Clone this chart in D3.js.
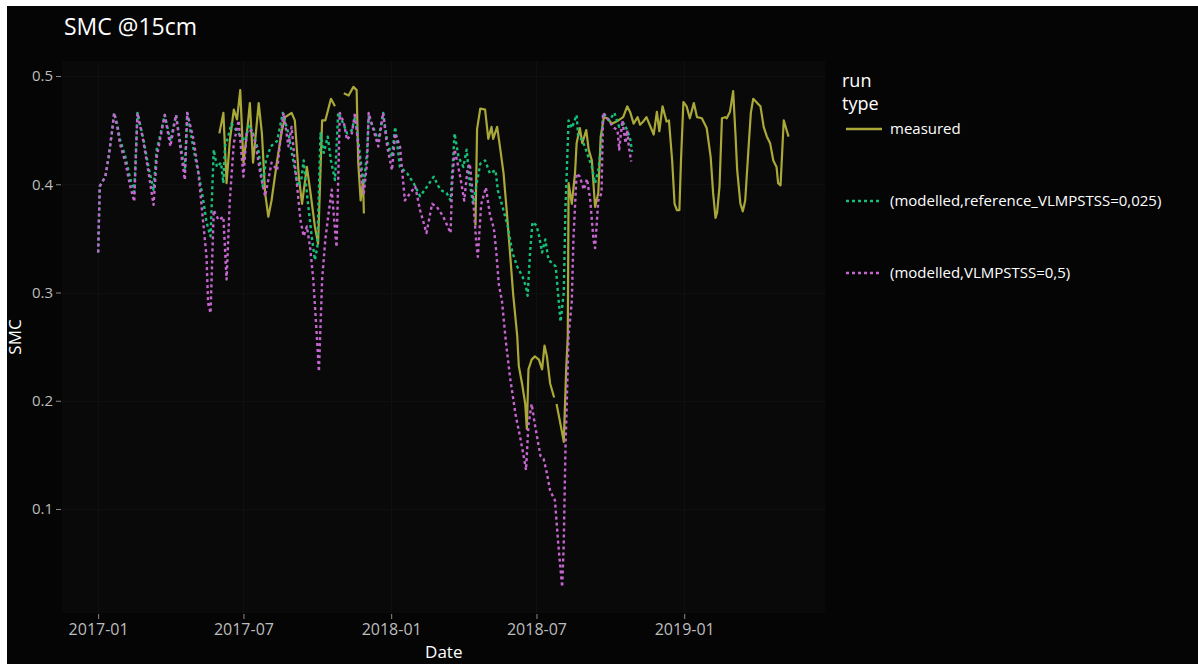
<!DOCTYPE html>
<html>
<head>
<meta charset="utf-8">
<script src="https://cdn.jsdelivr.net/npm/d3@7"></script>
<style>
  html, body { margin: 0; padding: 0; background: #ffffff; }
  svg { display: block; }
  text { font-family: "Open Sans", "DejaVu Sans", sans-serif; }
</style>
</head>
<body>
<svg id="chart" width="1198" height="664"></svg>
<script>
// ---- Soil moisture content at 15 cm depth ----

// Measured SMC (null marks a gap in the record)
const measuredDates = [
  "2017-06-01","2017-06-06","2017-06-10","2017-06-14","2017-06-19","2017-06-23","2017-06-27",
  "2017-07-01","2017-07-05","2017-07-09","2017-07-13","2017-07-20","2017-07-24","2017-07-28",
  "2017-08-01","2017-08-05","2017-08-12","2017-08-18","2017-08-22","2017-08-30","2017-09-03",
  "2017-09-08","2017-09-12","2017-09-18","2017-09-22","2017-09-28","2017-10-02","2017-10-07",
  "2017-10-11","2017-10-18","2017-10-23","2017-10-29","2017-11-03","2017-11-09","2017-11-15",
  "2017-11-19","2017-11-21","2017-11-24","2017-11-27","2017-11-28","2018-02-01",
  "2018-04-16","2018-04-18","2018-04-22","2018-04-28","2018-05-02","2018-05-06","2018-05-08",
  "2018-05-13","2018-05-17","2018-05-21","2018-05-25","2018-05-29","2018-06-02","2018-06-07",
  "2018-06-09","2018-06-13","2018-06-17","2018-06-19","2018-06-21","2018-06-25","2018-06-29",
  "2018-07-04","2018-07-08","2018-07-11","2018-07-14","2018-07-18","2018-07-23","2018-07-24",
  "2018-07-26","2018-07-31","2018-08-04","2018-08-07","2018-08-09","2018-08-10","2018-08-14",
  "2018-08-18","2018-08-20","2018-08-24","2018-08-27","2018-09-01","2018-09-04","2018-09-08",
  "2018-09-12","2018-09-16","2018-09-19","2018-09-23","2018-09-27","2018-10-03","2018-10-11",
  "2018-10-17","2018-10-22","2018-10-26","2018-10-30","2018-11-04","2018-11-07","2018-11-11",
  "2018-11-15","2018-11-19","2018-11-24","2018-11-28","2018-12-01","2018-12-05","2018-12-10",
  "2018-12-13","2018-12-17","2018-12-20","2018-12-23","2018-12-26","2018-12-28","2018-12-31",
  "2019-01-04","2019-01-08","2019-01-13","2019-01-17","2019-01-23","2019-01-29","2019-02-03",
  "2019-02-06","2019-02-09","2019-02-11","2019-02-14","2019-02-17","2019-02-21","2019-02-23",
  "2019-02-27","2019-03-03","2019-03-06","2019-03-08","2019-03-12","2019-03-15","2019-03-18",
  "2019-03-22","2019-03-25","2019-03-28","2019-04-02","2019-04-06","2019-04-10","2019-04-14",
  "2019-04-18","2019-04-22","2019-04-26","2019-04-28","2019-05-01","2019-05-05","2019-05-09",
  "2019-05-11"
];
const measuredValues = [
  0.447,0.466,0.401,0.440,0.469,0.460,0.487,
  0.420,0.445,0.475,0.420,0.475,0.447,0.392,
  0.370,0.385,0.422,0.450,0.462,0.466,0.459,
  0.407,0.382,0.416,0.395,0.361,0.345,0.459,
  0.459,0.479,0.472,null,0.484,0.482,0.490,
  0.487,0.420,0.385,0.404,0.373,null,
  0.362,0.451,0.470,0.469,0.442,0.453,0.442,
  0.453,0.432,0.410,0.375,0.337,0.298,0.260,
  0.232,0.216,0.197,0.174,0.229,0.238,0.241,
  0.238,0.229,0.251,0.241,0.216,0.203,null,
  0.197,0.178,0.162,0.229,0.260,0.401,0.382,
  0.410,0.438,0.452,0.438,0.450,0.432,0.422,
  0.379,0.392,0.444,0.462,0.461,0.456,0.459,
  0.462,0.472,0.466,0.456,0.462,0.455,0.458,
  0.462,0.455,0.446,0.467,0.449,0.472,0.458,
  0.459,0.422,0.382,0.376,0.376,0.422,0.476,
  0.472,0.461,0.475,0.462,0.461,0.452,0.425,
  0.392,0.369,0.374,0.398,0.461,0.462,0.461,
  0.467,0.486,0.444,0.413,0.382,0.375,0.385,
  0.432,0.466,0.479,0.475,0.472,0.453,0.444,
  0.438,0.422,0.416,0.401,0.399,0.459,0.449,
  0.444
];

// Modelled, reference_VLMPSTSS=0,025
const referenceDates = [
  "2017-01-01","2017-01-03","2017-01-06","2017-01-10","2017-01-14","2017-01-18","2017-01-21",
  "2017-01-25","2017-01-28","2017-02-04","2017-02-10","2017-02-15","2017-02-19","2017-02-26",
  "2017-03-05","2017-03-11","2017-03-15","2017-03-19","2017-03-25","2017-04-01","2017-04-08",
  "2017-04-15","2017-04-19","2017-04-22","2017-04-30","2017-05-06","2017-05-12","2017-05-16",
  "2017-05-21","2017-05-25","2017-05-29","2017-06-03","2017-06-06","2017-06-08","2017-06-12",
  "2017-06-16","2017-06-22","2017-06-28","2017-07-03","2017-07-08","2017-07-14","2017-07-20",
  "2017-07-25","2017-07-29","2017-08-04","2017-08-12","2017-08-19","2017-08-26","2017-09-01",
  "2017-09-07","2017-09-11","2017-09-14","2017-09-19","2017-09-24","2017-09-28","2017-10-01",
  "2017-10-05","2017-10-09","2017-10-14","2017-10-18","2017-10-23","2017-10-27","2017-11-03",
  "2017-11-07","2017-11-13","2017-11-17","2017-11-21","2017-11-26","2017-11-28","2017-12-02",
  "2017-12-04","2017-12-10","2017-12-16","2017-12-22","2017-12-27","2018-01-02","2018-01-06",
  "2018-01-12","2018-01-21","2018-01-29","2018-02-06","2018-02-12","2018-02-23","2018-03-03",
  "2018-03-11","2018-03-16","2018-03-21","2018-03-26","2018-04-01","2018-04-05","2018-04-09",
  "2018-04-13","2018-04-22","2018-04-28","2018-05-04","2018-05-11","2018-05-14","2018-05-19",
  "2018-05-26","2018-06-01","2018-06-07","2018-06-14","2018-06-18","2018-06-20","2018-06-23",
  "2018-06-26","2018-07-01","2018-07-04","2018-07-08","2018-07-12","2018-07-16","2018-07-21",
  "2018-07-25","2018-07-28","2018-07-31","2018-08-04","2018-08-06","2018-08-10","2018-08-14",
  "2018-08-20","2018-08-22","2018-08-27","2018-09-02","2018-09-08","2018-09-12","2018-09-16",
  "2018-09-20","2018-09-22","2018-09-30","2018-10-06","2018-10-12","2018-10-18","2018-10-22",
  "2018-10-26","2018-10-28"
];
const referenceValues = [
  0.337,0.398,0.402,0.407,0.425,0.447,0.466,
  0.455,0.442,0.425,0.405,0.393,0.466,0.443,
  0.415,0.395,0.432,0.444,0.464,0.440,0.464,
  0.430,0.412,0.466,0.432,0.410,0.385,0.365,
  0.352,0.432,0.416,0.420,0.401,0.435,0.444,
  0.456,0.450,0.444,0.440,0.455,0.445,0.430,
  0.398,0.422,0.435,0.440,0.466,0.447,0.422,
  0.398,0.404,0.422,0.385,0.352,0.330,0.342,
  0.447,0.429,0.444,0.422,0.404,0.466,0.455,
  0.447,0.450,0.462,0.440,0.410,0.400,0.430,
  0.462,0.452,0.440,0.466,0.440,0.425,0.453,
  0.416,0.410,0.401,0.389,0.395,0.407,0.395,
  0.392,0.385,0.447,0.425,0.416,0.432,0.401,
  0.382,0.419,0.422,0.410,0.413,0.394,0.381,
  0.362,0.337,0.324,0.314,0.305,0.297,0.337,
  0.365,0.362,0.353,0.337,0.349,0.330,0.327,
  0.324,0.298,0.273,0.300,0.376,0.459,0.452,
  0.464,0.444,0.441,0.429,0.416,0.401,0.413,
  0.438,0.466,0.459,0.466,0.453,0.456,0.450,
  0.441,0.430
];

// Modelled, VLMPSTSS=0,5
const scenarioDates = [
  "2017-01-01","2017-01-03","2017-01-06","2017-01-10","2017-01-14","2017-01-18","2017-01-21",
  "2017-01-25","2017-01-28","2017-02-04","2017-02-10","2017-02-15","2017-02-19","2017-02-26",
  "2017-03-05","2017-03-11","2017-03-15","2017-03-19","2017-03-25","2017-04-01","2017-04-08",
  "2017-04-15","2017-04-19","2017-04-22","2017-04-30","2017-05-06","2017-05-12","2017-05-16",
  "2017-05-18","2017-05-21","2017-05-25","2017-05-31","2017-06-06","2017-06-10","2017-06-14",
  "2017-06-19","2017-06-25","2017-07-01","2017-07-05","2017-07-11","2017-07-16","2017-07-22",
  "2017-07-28","2017-08-01","2017-08-05","2017-08-12","2017-08-16","2017-08-20","2017-08-26",
  "2017-08-30","2017-09-03","2017-09-10","2017-09-14","2017-09-18","2017-09-22","2017-09-26",
  "2017-09-30","2017-10-03","2017-10-07","2017-10-11","2017-10-15","2017-10-19","2017-10-23",
  "2017-10-25","2017-10-27","2017-10-29","2017-11-03","2017-11-07","2017-11-13","2017-11-17",
  "2017-11-21","2017-11-26","2017-11-28","2017-12-02","2017-12-04","2017-12-10","2017-12-16",
  "2017-12-22","2017-12-27","2018-01-02","2018-01-06","2018-01-12","2018-01-18","2018-01-25",
  "2018-01-31","2018-02-06","2018-02-14","2018-02-21","2018-02-27","2018-03-07","2018-03-16",
  "2018-03-18","2018-03-21","2018-03-24","2018-03-28","2018-04-02","2018-04-06","2018-04-09",
  "2018-04-13","2018-04-17","2018-04-19","2018-04-23","2018-04-29","2018-05-04","2018-05-09",
  "2018-05-12","2018-05-15","2018-05-19","2018-05-24","2018-05-29","2018-06-05","2018-06-11",
  "2018-06-15","2018-06-18","2018-06-21","2018-06-25","2018-06-29","2018-07-06","2018-07-10",
  "2018-07-14","2018-07-18","2018-07-24","2018-07-28","2018-07-31","2018-08-02","2018-08-04",
  "2018-08-06","2018-08-10","2018-08-14","2018-08-16","2018-08-20","2018-08-24","2018-08-29",
  "2018-09-02","2018-09-06","2018-09-10","2018-09-12","2018-09-16","2018-09-20","2018-09-22",
  "2018-09-26","2018-09-30","2018-10-04","2018-10-10","2018-10-12","2018-10-16","2018-10-20",
  "2018-10-22","2018-10-24","2018-10-27"
];
const scenarioValues = [
  0.337,0.398,0.402,0.407,0.425,0.447,0.466,
  0.452,0.438,0.420,0.398,0.384,0.466,0.441,
  0.410,0.381,0.425,0.441,0.464,0.435,0.464,
  0.425,0.404,0.466,0.441,0.410,0.364,0.333,
  0.290,0.281,0.376,0.367,0.370,0.312,0.385,
  0.438,0.459,0.407,0.447,0.450,0.438,0.410,
  0.389,0.404,0.420,0.413,0.441,0.466,0.435,
  0.453,0.420,0.367,0.352,0.361,0.342,0.312,
  0.265,0.227,0.312,0.349,0.373,0.395,0.358,
  0.342,0.404,0.466,0.457,0.441,0.447,0.466,
  0.435,0.398,0.392,0.420,0.466,0.450,0.435,
  0.466,0.435,0.413,0.447,0.435,0.385,0.392,
  0.398,0.376,0.355,0.382,0.379,0.370,0.355,
  0.401,0.432,0.422,0.407,0.385,0.413,0.419,
  0.388,0.346,0.333,0.381,0.397,0.372,0.359,
  0.337,0.308,0.292,0.254,0.222,0.187,0.165,
  0.149,0.136,0.178,0.197,0.178,0.149,0.146,
  0.133,0.117,0.108,0.069,0.044,0.028,0.069,
  0.152,0.260,0.292,0.349,0.410,0.407,0.395,
  0.405,0.385,0.349,0.341,0.385,0.392,0.466,
  0.462,0.458,0.453,0.450,0.432,0.459,0.438,
  0.450,0.435,0.421
];

// Axis ticks
const yTickValues = [0.1, 0.2, 0.3, 0.4, 0.5];
const xTickLabels = ["2017-01", "2017-07", "2018-01", "2018-07", "2019-01"];

// Series definitions (drawing order: measured first, then the two model runs)
const seriesNames = ["measured", "(modelled,reference_VLMPSTSS=0,025)", "(modelled,VLMPSTSS=0,5)"];
const seriesColors = ["#aaa838", "#17c07a", "#c565d0"];

const parseDay = d3.utcParse("%Y-%m-%d");
const parseMonth = d3.utcParse("%Y-%m");
const zip = (dates, values) => dates.map((d, i) => ({ date: parseDay(d), value: values[i] }));
const series = [
  { name: seriesNames[0], color: seriesColors[0], dash: null,  data: zip(measuredDates, measuredValues) },
  { name: seriesNames[1], color: seriesColors[1], dash: "3,3", data: zip(referenceDates, referenceValues) },
  { name: seriesNames[2], color: seriesColors[2], dash: "3,3", data: zip(scenarioDates, scenarioValues) }
];

// ---- Layout ----
const svg = d3.select("#chart");
const W = 1198, H = 664;
const plot = { left: 62, right: 825.5, top: 61, bottom: 613 };

// Figure background (framed by a thin white strip at top and left)
svg.append("rect").attr("x", 7).attr("y", 6).attr("width", W - 7).attr("height", H - 6).attr("fill", "#050505");
svg.append("rect")
  .attr("x", plot.left).attr("y", plot.top)
  .attr("width", plot.right - plot.left).attr("height", plot.bottom - plot.top)
  .attr("fill", "#090909");

const x = d3.scaleUtc()
  .domain([parseDay("2016-11-17"), parseDay("2019-06-26")])
  .range([plot.left, plot.right]);
const y = d3.scaleLinear()
  .domain([0.0039, 0.5139])
  .range([plot.bottom, plot.top]);

const xTicks = xTickLabels.map(parseMonth);

// Grid lines (barely visible against the plot background)
const grid = svg.append("g").attr("stroke", "#0f0f0f").attr("stroke-width", 1);
grid.selectAll("line.gx").data(xTicks).join("line")
  .attr("x1", d => Math.round(x(d)) + 0.5).attr("x2", d => Math.round(x(d)) + 0.5)
  .attr("y1", plot.top).attr("y2", plot.bottom);
grid.selectAll("line.gy").data(yTickValues).join("line")
  .attr("y1", d => Math.round(y(d)) + 0.5).attr("y2", d => Math.round(y(d)) + 0.5)
  .attr("x1", plot.left).attr("x2", plot.right);

// Axes
const xAxis = d3.axisBottom(x).tickValues(xTicks).tickFormat(d3.utcFormat("%Y-%m"))
  .tickSizeInner(5).tickSizeOuter(0).tickPadding(5);
const yAxis = d3.axisLeft(y).tickValues(yTickValues).tickFormat(d3.format(".1f"))
  .tickSizeInner(5).tickSizeOuter(0).tickPadding(3);

const gx = svg.append("g").attr("transform", `translate(0,${plot.bottom + 1})`).call(xAxis);
const gy = svg.append("g").attr("transform", `translate(${plot.left - 1},0)`).call(yAxis);
[gx, gy].forEach(g => {
  g.select(".domain").remove();
  g.selectAll(".tick line").attr("stroke", "#8a8a8a");
  g.selectAll(".tick text").attr("fill", "#bdbdbd")
    .style("font-family", '"Open Sans", sans-serif');
});
gx.selectAll(".tick text").style("font-size", "16px");
gy.selectAll(".tick text").style("font-size", "15px");

// Lines
const line = d3.line()
  .defined(d => d.value != null)
  .x(d => x(d.date))
  .y(d => y(d.value));

svg.append("clipPath").attr("id", "plot-clip").append("rect")
  .attr("x", plot.left).attr("y", plot.top)
  .attr("width", plot.right - plot.left).attr("height", plot.bottom - plot.top);

svg.append("g").attr("clip-path", "url(#plot-clip)")
  .selectAll("path").data(series).join("path")
  .attr("fill", "none")
  .attr("stroke", s => s.color)
  .attr("stroke-width", s => s.dash ? 2.4 : 2.2)
  .attr("stroke-linejoin", "round")
  .attr("stroke-dasharray", s => s.dash)
  .attr("d", s => line(s.data));

// Titles
svg.append("text").attr("x", 64).attr("y", 35)
  .attr("fill", "#ffffff").style("font-size", "23px").text("SMC @15cm");
svg.append("text")
  .attr("transform", `translate(21,${(plot.top + plot.bottom) / 2}) rotate(-90)`)
  .attr("text-anchor", "middle").attr("fill", "#ffffff").style("font-size", "17px").text("SMC");
svg.append("text").attr("x", (plot.left + plot.right) / 2).attr("y", 658)
  .attr("text-anchor", "middle").attr("fill", "#ffffff").style("font-size", "17px").text("Date");

// Legend
const legend = svg.append("g").attr("transform", "translate(842,0)");
legend.append("text").attr("x", 0).attr("y", 87).attr("fill", "#ffffff").style("font-size", "18px").text("run");
legend.append("text").attr("x", 0).attr("y", 110).attr("fill", "#ffffff").style("font-size", "18px").text("type");
const items = legend.selectAll("g.item").data(series).join("g")
  .attr("class", "item")
  .attr("transform", (s, i) => `translate(0,${129 + i * 72})`);
items.append("line")
  .attr("x1", 4).attr("x2", 40).attr("y1", 0).attr("y2", 0)
  .attr("stroke", s => s.color).attr("stroke-width", 2.4)
  .attr("stroke-dasharray", s => s.dash);
items.append("text").attr("x", 48).attr("y", 5)
  .attr("fill", "#ffffff").style("font-size", "15px").text(s => s.name);
</script>
</body>
</html>
